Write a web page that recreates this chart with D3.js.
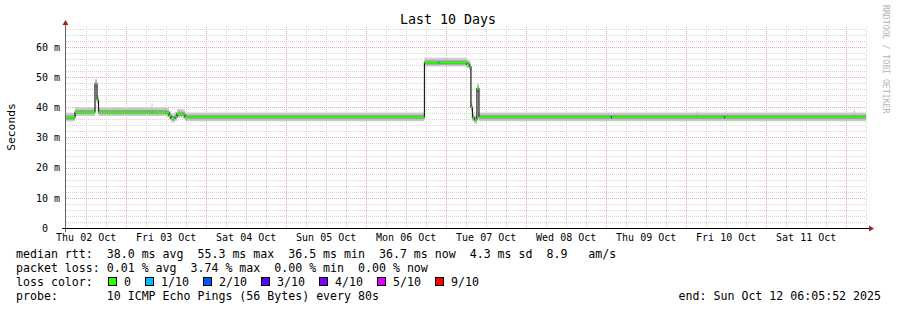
<!DOCTYPE html>
<html>
<head>
<meta charset="utf-8">
<script src="https://cdn.jsdelivr.net/npm/d3@7/dist/d3.min.js"></script>
<style>
  body { margin: 0; background: #fff; }
  svg text { font-family: "DejaVu Sans Mono", monospace; white-space: pre; }
</style>
</head>
<body>
<div id="chart"></div>
<script>
// chart size, same as the rrdtool png
const width = 897;
const height = 310;
const plot = {left: 66, right: 866, top: 27, bottom: 228};

// data: each row holds until the next time (step), values in ms
const times = [
  "2025-10-02 06:06", "2025-10-02 08:48", "2025-10-02 14:48", "2025-10-02 15:24",
  "2025-10-02 15:51", "2025-10-03 07:45", "2025-10-03 08:03", "2025-10-03 12:06",
  "2025-10-03 13:00", "2025-10-03 13:36", "2025-10-03 14:48", "2025-10-03 15:06",
  "2025-10-03 15:24", "2025-10-03 17:12", "2025-10-03 17:48", "2025-10-06 17:38",
  "2025-10-06 21:50", "2025-10-06 22:08", "2025-10-07 06:23", "2025-10-07 07:08",
  "2025-10-07 07:35", "2025-10-07 08:02", "2025-10-07 08:38", "2025-10-07 09:23",
  "2025-10-07 09:59", "2025-10-09 01:35", "2025-10-09 01:53", "2025-10-10 03:23",
  "2025-10-10 03:41", "2025-10-10 11:29", "2025-10-10 11:47", "2025-10-12 02:29",
  "2025-10-12 02:47"
];
const median = [
  36.6, 38.4, 47.8, 42.5, 38.4, 38.4, 38.4, 38.2, 37.2, 36.3, 36.8, 36.8,
  37.8, 37.6, 36.7, 54.8, 54.8, 54.8, 54.2, 53.5, 40.0, 36.6, 35.8, 46.2,
  36.7, 36.7, 36.7, 36.7, 36.7, 36.7, 36.7, 36.7, 36.7
];
const smokeMin = [
  35.3, 37.1, 46.5, 41.2, 37.1, 37.1, 37.1, 36.9, 35.9, 35.0, 35.5, 35.5,
  36.5, 36.3, 35.4, 53.5, 53.5, 53.5, 52.9, 52.2, 38.7, 35.3, 34.5, 44.9,
  35.4, 35.4, 35.4, 35.4, 35.4, 35.4, 35.4, 35.4, 35.4
];
const smokeLow = [
  35.9, 37.7, 47.1, 41.8, 37.7, 37.7, 37.7, 37.5, 36.5, 35.6, 36.1, 36.1,
  37.1, 36.9, 36.0, 54.1, 54.1, 54.1, 53.5, 52.8, 39.3, 35.9, 35.1, 45.5,
  36.0, 36.0, 36.0, 36.0, 36.0, 36.0, 36.0, 36.0, 36.0
];
const smokeHigh = [
  37.4, 39.2, 48.6, 43.3, 39.2, 39.3, 39.2, 39.0, 38.0, 37.1, 37.6, 37.6,
  38.6, 38.4, 37.5, 55.6, 55.6, 55.6, 55.0, 54.3, 40.8, 37.4, 36.6, 47.0,
  37.5, 37.5, 37.5, 37.8, 37.5, 37.5, 37.5, 37.8, 37.5
];
const smokeMax = [
  38.2, 40.0, 49.4, 44.1, 40.0, 41.4, 40.0, 39.8, 38.8, 37.9, 38.4, 38.4,
  39.4, 39.2, 38.3, 56.4, 56.4, 56.4, 55.8, 55.1, 41.6, 38.2, 37.4, 47.8,
  38.3, 38.3, 38.3, 39.0, 38.3, 38.3, 38.3, 39.2, 38.3
];
const loss = [
  0, 0, 0, 0, 0, 0, 0, 0, 0, 0, 1, 0,
  0, 0, 0, 0, 1, 0, 0, 0, 0, 0, 0, 0,
  0, 3, 0, 0, 0, 4, 0, 0, 0
];

const startTime = "2025-10-02 06:06";
const endTime = "2025-10-12 06:06";

// y ticks and legend
const yTicks = [0, 10, 20, 30, 40, 50, 60];
const lossLabels = ["0", "1/10", "2/10", "3/10", "4/10", "5/10", "9/10"];
const lossColors = ["#26ff00", "#00b8ff", "#0059ff", "#5e00ff", "#7e00ff", "#dd00ff", "#ff0000"];
const lossIndex = {0: 0, 1: 1, 2: 2, 3: 3, 4: 4, 5: 5, 9: 6};

const parse = d3.timeParse("%Y-%m-%d %H:%M");
const t0 = parse(startTime), t1 = parse(endTime);

const data = times.map((t, i) => ({
  t: parse(t),
  t2: i < times.length - 1 ? parse(times[i + 1]) : t1,
  med: median[i], min: smokeMin[i], lo: smokeLow[i], hi: smokeHigh[i], max: smokeMax[i],
  loss: loss[i]
}));
// last point repeated at the end so the step reaches the right edge
const stepData = data.concat([Object.assign({}, data[data.length - 1], {t: t1})]);

const svg = d3.select("#chart").append("svg")
  .attr("width", width)
  .attr("height", height);

svg.append("rect").attr("width", width).attr("height", height).attr("fill", "#fff");

// scales
const x = d3.scaleTime().domain([t0, t1]).range([plot.left, plot.right]);
const y = d3.scaleLinear().domain([0, 66.6]).range([plot.bottom, plot.top]);

/*
  Grid
*/
const grid = svg.append("g").attr("shape-rendering", "crispEdges");

// minor horizontal, every 2 ms
grid.selectAll(".hmin")
  .data(d3.range(2, 67, 2).filter(v => v % 10 !== 0))
  .enter().append("line")
    .attr("x1", plot.left).attr("x2", plot.right)
    .attr("y1", d => Math.round(y(d)) + 0.5).attr("y2", d => Math.round(y(d)) + 0.5)
    .attr("stroke", "#d4d4d4").attr("stroke-dasharray", "1,1");

// minor vertical, every 6 hours
grid.selectAll(".vmin")
  .data(d3.timeHour.every(6).range(t0, t1).filter(d => d.getHours() !== 0))
  .enter().append("line")
    .attr("x1", d => Math.round(x(d)) + 0.5).attr("x2", d => Math.round(x(d)) + 0.5)
    .attr("y1", plot.top).attr("y2", plot.bottom)
    .attr("stroke", "#d4d4d4").attr("stroke-dasharray", "1,1");

// major horizontal
grid.selectAll(".hmaj")
  .data(yTicks.filter(v => v > 0))
  .enter().append("line")
    .attr("x1", plot.left).attr("x2", plot.right)
    .attr("y1", d => Math.round(y(d)) + 0.5).attr("y2", d => Math.round(y(d)) + 0.5)
    .attr("stroke", "#eca8a8").attr("stroke-dasharray", "1,1");

// major vertical, midnight
grid.selectAll(".vmaj")
  .data(d3.timeDay.range(t0, t1))
  .enter().append("line")
    .attr("x1", d => Math.round(x(d)) + 0.5).attr("x2", d => Math.round(x(d)) + 0.5)
    .attr("y1", plot.top).attr("y2", plot.bottom)
    .attr("stroke", "#eca8a8").attr("stroke-dasharray", "1,1");

/*
  Smoke
*/
const outerArea = d3.area()
  .x(d => x(d.t)).y0(d => y(d.min)).y1(d => y(d.max))
  .curve(d3.curveStepAfter);
const innerArea = d3.area()
  .x(d => x(d.t)).y0(d => y(d.lo)).y1(d => y(d.hi))
  .curve(d3.curveStepAfter);

svg.append("path").datum(stepData).attr("d", outerArea).attr("fill", "#cbcbcb");
svg.append("path").datum(stepData).attr("d", innerArea).attr("fill", "#a2a2a2");

// median line (dark), the vertical steps stay visible
const medLine = d3.line().x(d => x(d.t)).y(d => y(d.med)).curve(d3.curveStepAfter);
svg.append("path").datum(stepData).attr("d", medLine)
  .attr("fill", "none").attr("stroke", "#1a1a1a").attr("stroke-width", 1.2);

// median coloured by loss
svg.selectAll(".med")
  .data(data)
  .enter().append("rect")
    .attr("class", "med")
    .attr("x", d => x(d.t))
    .attr("width", d => Math.max(1, x(d.t2) - x(d.t)))
    .attr("y", d => y(d.med) - 1)
    .attr("height", 2)
    .attr("fill", d => lossColors[lossIndex[d.loss]]);

/*
  Axes
*/
const noons = d3.timeDay.range(d3.timeDay.floor(t0), t1).map(d => d3.timeHour.offset(d, 12))
  .filter(d => d > t0 && d < t1);

const xAxis = svg.append("g")
  .attr("transform", `translate(0,${plot.bottom})`)
  .call(d3.axisBottom(x).tickValues(noons).tickFormat(d3.timeFormat("%a %d Oct")).tickSize(0).tickPadding(6));
xAxis.select(".domain").remove();
xAxis.selectAll("text").attr("font-size", "10px").attr("fill", "#000")
  .style("font-family", "DejaVu Sans Mono");

const yAxis = svg.append("g")
  .attr("transform", `translate(${plot.left},0)`)
  .call(d3.axisLeft(y).tickValues(yTicks).tickFormat(d => d === 0 ? "0  " : d + " m").tickSize(0).tickPadding(6));
yAxis.select(".domain").remove();
yAxis.selectAll("text").attr("font-size", "10px").attr("fill", "#000")
  .style("font-family", "DejaVu Sans Mono");

// axis lines with arrows
svg.append("line").attr("x1", 62).attr("x2", 869).attr("y1", plot.bottom + 0.5).attr("y2", plot.bottom + 0.5)
  .attr("stroke", "#000");
svg.append("line").attr("x1", plot.left - 0.5).attr("x2", plot.left - 0.5).attr("y1", 232).attr("y2", 24)
  .attr("stroke", "#000").attr("stroke-opacity", 0.6);
svg.append("path").attr("d", `M869,${plot.bottom - 2.5}L874,${plot.bottom + 0.5}L869,${plot.bottom + 3.5}Z`)
  .attr("fill", "#a02020");
svg.append("path").attr("d", `M${plot.left - 3.5},25L${plot.left - 0.5},20L${plot.left + 2.5},25Z`)
  .attr("fill", "#a02020");

/*
  Texts
*/
svg.append("text").attr("x", 448).attr("y", 24).attr("text-anchor", "middle")
  .attr("font-size", "13.3px").text("Last 10 Days");

svg.append("text").attr("transform", "translate(15,127) rotate(-90)").attr("text-anchor", "middle")
  .attr("font-size", "11.3px").text("Seconds");

svg.append("text").attr("transform", "translate(883,5) rotate(90)")
  .attr("font-size", "8.2px").attr("fill", "#b4b4b4").text("RRDTOOL / TOBI OETIKER");

const legendLines = [
  "median rtt:  38.0 ms avg  55.3 ms max  36.5 ms min  36.7 ms now  4.3 ms sd  8.9   am/s",
  "packet loss: 0.01 % avg  3.74 % max  0.00 % min  0.00 % now",
  "loss color:",
  "probe:       10 ICMP Echo Pings (56 Bytes) every 80s"
];
svg.selectAll(".leg")
  .data(legendLines)
  .enter().append("text")
    .attr("x", 16).attr("y", (d, i) => 258 + i * 14)
    .attr("font-size", "11.6px").text(d => d);

svg.append("text").attr("x", 881).attr("y", 300).attr("text-anchor", "end")
  .attr("font-size", "11.6px").text("end: Sun Oct 12 06:05:52 2025");

// loss colour boxes
let lx = 108;
lossLabels.forEach((lab, i) => {
  svg.append("rect").attr("x", lx + 0.5).attr("y", 277.5).attr("width", 8).attr("height", 8)
    .attr("fill", lossColors[i]).attr("stroke", "#000");
  svg.append("text").attr("x", lx + 16).attr("y", 286).attr("font-size", "11.6px").text(lab);
  lx += 16 + lab.length * 7 + 14;
});
</script>
</body>
</html>
